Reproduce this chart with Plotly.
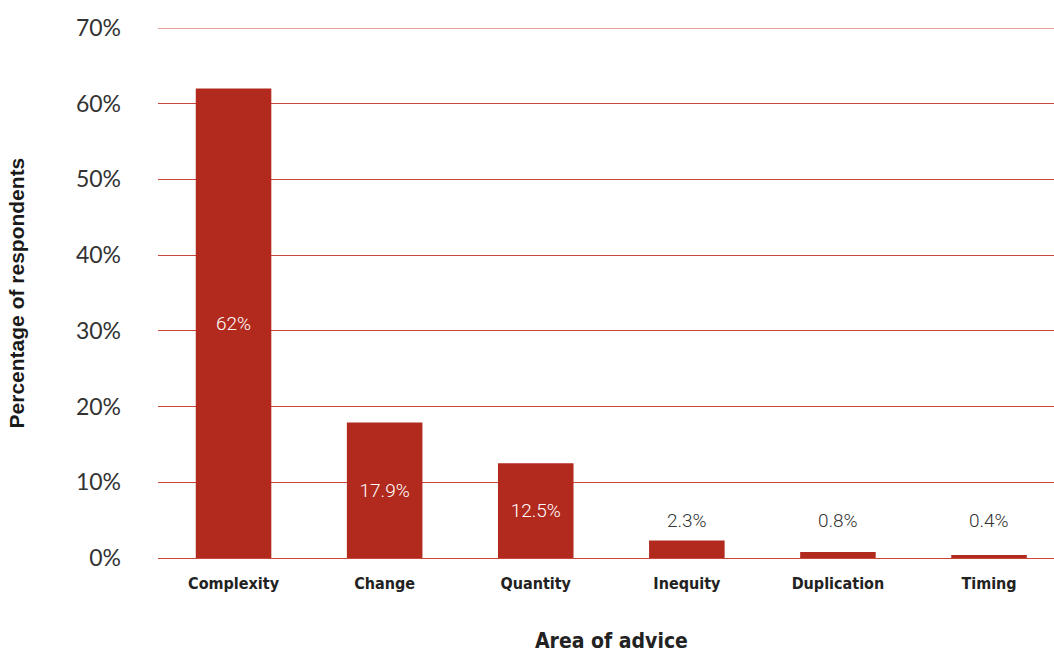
import plotly.graph_objects as go

# Survey results: share of respondents naming each area of advice
categories = ["Complexity", "Change", "Quantity", "Inequity", "Duplication", "Timing"]
values = [62.0, 17.9, 12.5, 2.3, 0.8, 0.4]
label_text = ["62%", "17.9%", "12.5%", "2.3%", "0.8%", "0.4%"]
y_ticks = [0, 10, 20, 30, 40, 50, 60, 70]
y_tick_text = ["0%", "10%", "20%", "30%", "40%", "50%", "60%", "70%"]

BAR = "#b22a1e"
GRID = "#c9463b"
TEXT = "#333333"
COND = "DejaVu Sans Condensed"

# bars tall enough get their label inside, the rest get a label above
inside_min = 10
inside = [t if v >= inside_min else "" for v, t in zip(values, label_text)]

fig = go.Figure(
    go.Bar(
        x=categories,
        y=values,
        width=0.5,
        marker=dict(color=BAR, line=dict(width=0)),
        text=inside,
        textposition="inside",
        insidetextanchor="middle",
        textfont=dict(family="Roboto", size=19, color="white", weight=300),
        hoverinfo="skip",
    )
)

for c, v, t in zip(categories, values, label_text):
    if v < inside_min:
        fig.add_annotation(
            x=c, y=4.9, text=t, showarrow=False, xanchor="center", yanchor="middle",
            font=dict(family="Roboto", size=19, color=TEXT, weight=300),
        )

# top gridline at the upper end of the range
fig.add_shape(
    type="line", xref="paper", yref="y", x0=0, x1=1, y0=y_ticks[-1], y1=y_ticks[-1],
    line=dict(color=GRID, width=1), layer="below",
)

# axis titles
fig.add_annotation(
    xref="paper", yref="paper", x=0.506, y=-0.157, yanchor="middle", xanchor="center",
    text="Area of advice", showarrow=False,
    font=dict(family=COND, size=21, color="#222222", weight="bold"),
)
fig.add_annotation(
    xref="paper", yref="paper", x=-0.158, y=0.5, xanchor="center", yanchor="middle",
    text="Percentage of respondents", showarrow=False, textangle=-90,
    font=dict(family="Liberation Sans", size=21, color="#1a1a1a", weight="bold"),
)

fig.update_layout(
    width=1054,
    height=653,
    margin=dict(l=158, r=0, t=28, b=95),
    paper_bgcolor="white",
    plot_bgcolor="white",
    showlegend=False,
    xaxis=dict(
        range=[-0.5, 5.43],
        showgrid=False,
        zeroline=False,
        showline=False,
        ticks="",
        ticklabelstandoff=14,
        tickfont=dict(family=COND, size=16, color="#222222", weight="bold"),
    ),
    yaxis=dict(
        range=[0, 70],
        tickvals=y_ticks,
        ticktext=y_tick_text,
        showgrid=True,
        gridcolor=GRID,
        gridwidth=1,
        zeroline=True,
        zerolinecolor=GRID,
        zerolinewidth=1,
        showline=False,
        ticks="",
        ticklabelstandoff=36,
        tickfont=dict(family="Lato", size=23, color=TEXT),
    ),
)

fig.write_html("out.html")
